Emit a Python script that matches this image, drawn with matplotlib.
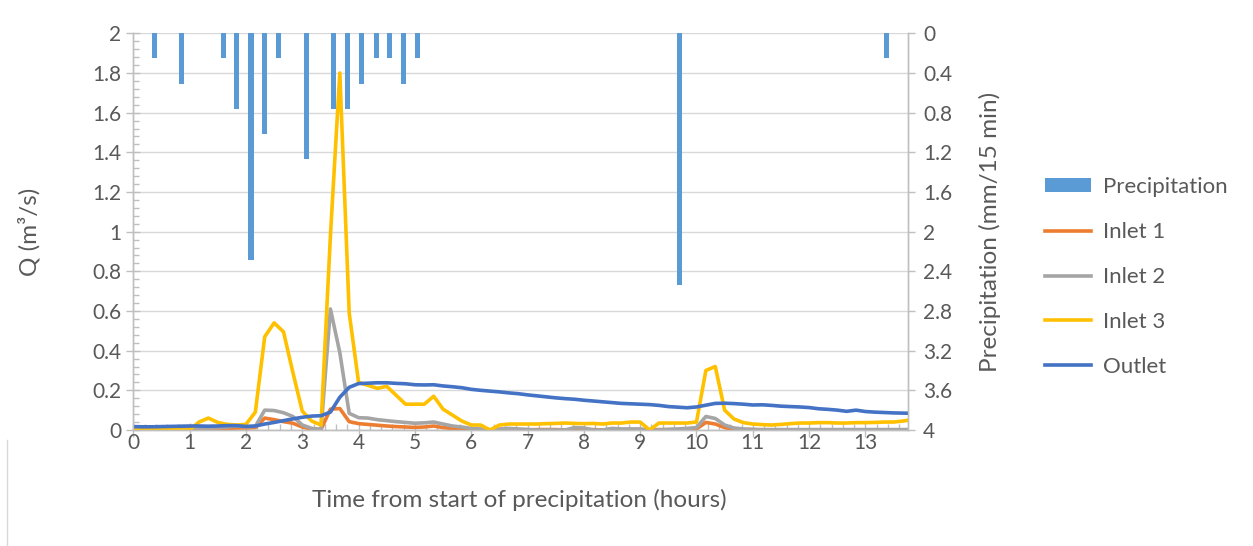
import matplotlib.pyplot as plt
import numpy as np
from matplotlib.patches import Patch
from matplotlib.lines import Line2D
from matplotlib.ticker import MultipleLocator

plt.rcParams['font.family'] = ['Lato', 'DejaVu Sans']

# time in hours, 10-minute steps
time_h = np.arange(84) / 6.0

inlet1 = [0.0, 0.0, 0.002, 0.003, 0.003, 0.003, 0.005, 0.005, 0.005, 0.005,
          0.008, 0.01, 0.01, 0.012, 0.06, 0.052, 0.042, 0.034, 0.015, 0.005,
          0.003, 0.105, 0.108, 0.042, 0.032, 0.028, 0.024, 0.02, 0.017, 0.015,
          0.013, 0.015, 0.02, 0.012, 0.008, 0.005, 0.003, 0.002, 0.0, 0.002,
          0.002, 0.002, 0.0, 0.002, 0.002, 0.002, 0.0, 0.002, 0.002, 0.002,
          0.0, 0.002, 0.002, 0.002, 0.002, 0.0, 0.002, 0.002, 0.002, 0.003,
          0.005, 0.038, 0.03, 0.012, 0.004, 0.002, 0.002, 0.0, 0.0, 0.0,
          0.0, 0.0, 0.0, 0.0, 0.0, 0.0, 0.0, 0.0, 0.0, 0.0,
          0.0, 0.0, 0.0, 0.0]

inlet2 = [0.005, 0.003, 0.005, 0.008, 0.005, 0.005, 0.008, 0.01, 0.01, 0.012,
          0.015, 0.02, 0.015, 0.018, 0.10, 0.098, 0.087, 0.068, 0.025, 0.008,
          0.003, 0.61, 0.39, 0.084, 0.062, 0.06, 0.052, 0.047, 0.042, 0.038,
          0.034, 0.036, 0.04, 0.03, 0.02, 0.015, 0.008, 0.005, 0.0, 0.005,
          0.008, 0.005, 0.003, 0.0, 0.0, 0.0, 0.0, 0.012, 0.01, 0.0,
          0.0, 0.008, 0.005, 0.005, 0.005, 0.0, 0.0, 0.003, 0.005, 0.008,
          0.012, 0.068, 0.058, 0.025, 0.01, 0.005, 0.003, 0.002, 0.002, 0.002,
          0.002, 0.002, 0.002, 0.002, 0.002, 0.002, 0.002, 0.002, 0.002, 0.002,
          0.002, 0.002, 0.002, 0.002]

inlet3 = [0.0, 0.0, 0.005, 0.008, 0.003, 0.0, 0.0, 0.04, 0.06, 0.038,
          0.028, 0.025, 0.028, 0.09, 0.47, 0.54, 0.495, 0.29, 0.095, 0.045,
          0.025, 0.98, 1.80, 0.59, 0.24, 0.225, 0.21, 0.22, 0.175, 0.13,
          0.13, 0.13, 0.17, 0.105, 0.075, 0.045, 0.025, 0.025, 0.0, 0.025,
          0.03, 0.03, 0.03, 0.03, 0.032, 0.033, 0.035, 0.033, 0.032, 0.033,
          0.03, 0.035, 0.035, 0.04, 0.04, 0.0, 0.035, 0.035, 0.035, 0.035,
          0.04, 0.30, 0.32, 0.10, 0.055, 0.037, 0.03, 0.027, 0.025, 0.028,
          0.032, 0.035, 0.035, 0.037, 0.037, 0.035, 0.035, 0.037, 0.037, 0.038,
          0.04, 0.04, 0.045, 0.052]

outlet = [0.017, 0.016, 0.016, 0.017, 0.018, 0.019, 0.02, 0.02, 0.019, 0.02,
          0.022, 0.022, 0.018, 0.02, 0.03, 0.038, 0.047, 0.056, 0.064, 0.07,
          0.072, 0.09, 0.165, 0.215, 0.234, 0.236, 0.238, 0.238, 0.235, 0.233,
          0.228, 0.227, 0.228, 0.222, 0.218, 0.213, 0.205, 0.2, 0.196, 0.192,
          0.187, 0.183, 0.177, 0.172, 0.167, 0.162, 0.158, 0.155, 0.15, 0.146,
          0.142, 0.138, 0.134, 0.132, 0.13, 0.128, 0.124, 0.118, 0.115, 0.112,
          0.116, 0.125, 0.134, 0.135, 0.133, 0.13, 0.126, 0.127, 0.124, 0.12,
          0.118, 0.116, 0.113, 0.107, 0.104, 0.1, 0.094, 0.1, 0.093, 0.09,
          0.088, 0.086, 0.085, 0.084]

# precipitation, mm per 15 min
precip_time = [0.37, 0.86, 1.60, 1.84, 2.09, 2.33, 2.58, 3.07, 3.56, 3.81,
               4.06, 4.31, 4.55, 4.79, 5.04, 9.70, 13.38]
precip = [0.254, 0.508, 0.254, 0.762, 2.286, 1.016, 0.254, 1.27, 0.762, 0.762,
          0.508, 0.254, 0.254, 0.508, 0.254, 2.54, 0.254]

c_prec = '#5B9BD5'
c_in1 = '#ED7D31'
c_in2 = '#A5A5A5'
c_in3 = '#FFC000'
c_out = '#4472C4'
txt = '#595959'
axc = '#BFBFBF'

fig = plt.figure(figsize=(12.53, 5.46), dpi=100)
ax = fig.add_axes([0.1064, 0.2125, 0.618, 0.7265])
ax2 = ax.twinx()

# bars on the secondary (inverted) axis, behind the lines
ax2.bar(precip_time, precip, width=0.09, color=c_prec, zorder=3)
ax2.set_ylim(4, 0)
ax2.set_yticks(np.arange(0, 4.01, 0.4))
ax2.set_yticklabels(['0', '0.4', '0.8', '1.2', '1.6', '2', '2.4', '2.8', '3.2', '3.6', '4'])
ax2.grid(axis='y', color='#D9D9D9', linewidth=1.0, zorder=0)
ax2.set_axisbelow(True)

ax.set_zorder(ax2.get_zorder() + 1)
ax.patch.set_visible(False)

lw = 2.6
ax.plot(time_h, inlet1, color=c_in1, lw=lw, solid_joinstyle='round')
ax.plot(time_h, inlet2, color=c_in2, lw=lw, solid_joinstyle='round')
ax.plot(time_h, inlet3, color=c_in3, lw=lw, solid_joinstyle='round')
ax.plot(time_h, outlet, color=c_out, lw=lw, solid_joinstyle='round')

ax.set_xlim(0, 13.75)
ax.set_ylim(0, 2)
ax.set_yticks(np.arange(0, 2.01, 0.2))
ax.set_yticklabels(['0', '0.2', '0.4', '0.6', '0.8', '1', '1.2', '1.4', '1.6', '1.8', '2'])
ax.yaxis.set_minor_locator(MultipleLocator(0.04))
ax.set_xticks(range(0, 14))
ax.xaxis.set_minor_locator(MultipleLocator(0.2))

for a in (ax, ax2):
    for s in a.spines.values():
        s.set_color(axc)
        s.set_linewidth(1.0)
    a.spines['top'].set_visible(False)

fs = 15
ax.tick_params(axis='both', which='major', colors=axc, labelcolor=txt,
               labelsize=fs, direction='inout', length=10, width=1)
ax.tick_params(axis='x', which='major', pad=-3)
ax.tick_params(axis='both', which='minor', colors=axc, direction='in',
               length=4, width=1)
ax2.tick_params(axis='y', which='major', colors=axc, labelcolor=txt,
                labelsize=fs, direction='out', length=5, width=1, pad=6)

lfs = 17.5
ax.set_ylabel('Q (m³/s)', color=txt, fontsize=lfs)
ax.yaxis.set_label_coords(-0.1205, 0.5)
ax2.set_ylabel('Precipitation (mm/15 min)', color=txt, fontsize=lfs, rotation=90)
ax2.yaxis.set_label_coords(1.092, 0.5)
ax.set_xlabel('Time from start of precipitation (hours)', color=txt, fontsize=lfs)
ax.xaxis.set_label_coords(0.499, -0.149)

handles = [Patch(facecolor=c_prec, edgecolor='none'),
           Line2D([], [], color=c_in1, lw=lw),
           Line2D([], [], color=c_in2, lw=lw),
           Line2D([], [], color=c_in3, lw=lw),
           Line2D([], [], color=c_out, lw=lw)]
labels = ['Precipitation', 'Inlet 1', 'Inlet 2', 'Inlet 3', 'Outlet']
leg = fig.legend(handles, labels, loc='center left', bbox_to_anchor=(0.834, 0.4926),
                 frameon=False, fontsize=16, handlelength=2.07, handleheight=0.6,
                 labelspacing=1.12, handletextpad=0.54, borderpad=0, borderaxespad=0)
for t in leg.get_texts():
    t.set_color(txt)

# faint chart-area border remnant at the lower left
fig.add_artist(Line2D([7 / 1253, 7 / 1253], [0, 106 / 546], color='#D9D9D9', lw=1))

fig.savefig('out.png', dpi=100)
